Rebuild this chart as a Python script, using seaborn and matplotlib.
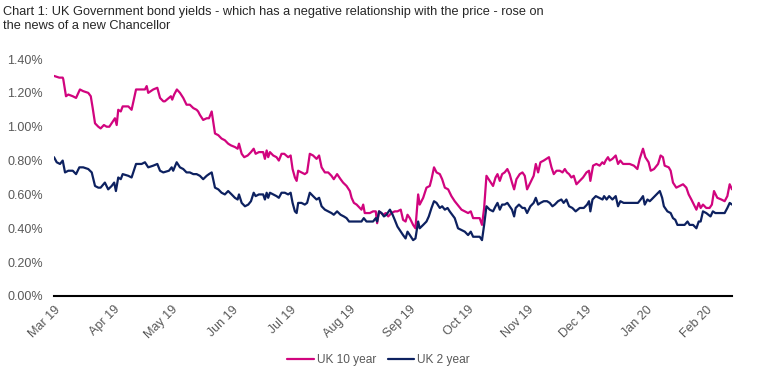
import matplotlib
matplotlib.use("Agg")
import matplotlib.pyplot as plt
import matplotlib.dates as mdates
from matplotlib.lines import Line2D
import pandas as pd
import seaborn as sns

# ---- data (days since 1 Mar 2019, yields in %) ----
start_date = "2019-03-01"
series_names = ["UK 10 year", "UK 2 year"]

days_10y = [0.0, 2.7, 4.5, 4.8, 6.2, 7.4, 9.7, 11.4, 13.4, 15.1, 17.7, 19.0, 20.0, 21.2, 22.9, 24.1,
            25.8, 27.2, 28.6, 30.3, 31.5, 32.4, 33.2, 34.5, 35.5, 38.4, 40.1, 42.4, 45.3, 47.0, 47.9,
            48.7, 51.3, 53.4, 54.8, 56.5, 57.3, 59.4, 60.4, 61.1, 62.1, 63.5, 65.1, 66.8, 68.5, 70.2,
            72.0, 73.7, 74.5, 75.4, 77.1, 78.9, 80.1, 81.5, 83.2, 84.9, 86.6, 88.3, 90.0, 91.4, 93.5,
            94.9, 95.6, 97.0, 98.3, 100.1, 101.8, 103.2, 104.2, 105.9, 108.1, 109.0, 109.9, 110.7,
            111.6, 113.3, 115.0, 116.2, 117.6, 119.0, 121.0, 122.3, 123.3, 124.5, 125.4, 126.2, 127.9,
            129.6, 130.8, 132.2, 133.9, 135.7, 137.0, 138.3, 140.0, 141.7, 143.4, 144.6, 146.3, 148.1,
            149.4, 151.2, 152.9, 153.8, 155.0, 156.4, 158.1, 158.9, 159.8, 160.6, 161.5, 163.2, 164.9,
            166.3, 167.0, 168.0, 170.1, 171.5, 172.7, 174.4, 176.1, 177.5, 179.2, 180.4, 181.7, 182.7,
            183.9, 185.6, 186.8, 188.2, 189.0, 190.8, 192.5, 194.2, 195.1, 196.4, 197.7, 199.4, 200.6,
            202.0, 203.7, 205.4, 207.1, 209.2, 210.6, 212.3, 214.0, 215.4, 216.6, 218.3, 220.0, 221.2,
            222.3, 223.5, 225.2, 226.9, 228.2, 229.2, 230.4, 231.6, 232.9, 234.3, 235.5, 236.7, 237.8,
            239.0, 240.7, 242.1, 243.3, 244.5, 246.2, 247.9, 249.0, 250.2, 251.4, 253.1, 254.5, 255.8,
            257.1, 258.3, 259.7, 261.4, 262.8, 264.0, 265.1, 266.2, 267.4, 268.6, 270.0, 271.7, 273.4,
            275.2, 276.5, 277.2, 278.6, 280.3, 282.0, 283.4, 284.3, 285.1, 286.3, 287.2, 288.6, 290.3,
            291.5, 292.7, 294.1, 295.8, 297.5, 299.7, 301.5, 302.7, 304.4, 305.6, 307.3, 308.4, 310.1,
            312.2, 313.5, 314.7, 315.6, 317.7, 318.7, 319.9, 321.6, 323.3, 325.1, 326.8, 328.0, 329.4,
            330.7, 332.0, 333.2, 334.2, 335.4, 337.1, 338.8, 340.0, 341.1, 342.8, 344.9, 346.6, 348.0,
            349.2, 350.4]
yield_10y = [1.30, 1.29, 1.29, 1.28, 1.18, 1.19, 1.18, 1.17, 1.22, 1.21, 1.20, 1.18, 1.11, 1.02, 1.00, 0.99,
             1.01, 1.00, 1.00, 1.03, 1.05, 1.01, 1.10, 1.09, 1.12, 1.12, 1.10, 1.22, 1.22, 1.22, 1.24,
             1.20, 1.22, 1.23, 1.17, 1.15, 1.15, 1.17, 1.18, 1.16, 1.19, 1.22, 1.20, 1.17, 1.13, 1.13,
             1.11, 1.10, 1.09, 1.07, 1.04, 1.05, 1.05, 1.09, 0.96, 0.95, 0.93, 0.92, 0.90, 0.89, 0.88,
             0.87, 0.90, 0.84, 0.82, 0.83, 0.85, 0.87, 0.84, 0.85, 0.85, 0.81, 0.86, 0.82,
             0.85, 0.83, 0.82, 0.80, 0.84, 0.84, 0.82, 0.83, 0.75, 0.70, 0.68, 0.74, 0.73,
             0.72, 0.73, 0.84, 0.83, 0.81, 0.83, 0.76, 0.73, 0.73, 0.71, 0.69, 0.72, 0.69,
             0.67, 0.65, 0.62, 0.58, 0.55, 0.54, 0.52, 0.51, 0.54, 0.49, 0.49, 0.49, 0.50,
             0.50, 0.43, 0.50, 0.48, 0.49, 0.47, 0.49, 0.50, 0.50, 0.51, 0.45, 0.44, 0.48,
             0.46, 0.42, 0.40, 0.60, 0.54, 0.58, 0.64, 0.65, 0.69, 0.76, 0.73, 0.72, 0.69,
             0.64, 0.63, 0.59, 0.56, 0.53, 0.51, 0.50, 0.49, 0.50, 0.46, 0.46, 0.46, 0.42,
             0.52, 0.71, 0.68, 0.65, 0.70, 0.72, 0.68, 0.72, 0.73, 0.75, 0.72, 0.67, 0.63,
             0.69, 0.72, 0.73, 0.71, 0.63, 0.67, 0.71, 0.78, 0.73, 0.79, 0.80, 0.81, 0.82,
             0.76, 0.72, 0.74, 0.74, 0.73, 0.75, 0.73, 0.72, 0.70, 0.71, 0.66, 0.68, 0.70,
             0.73, 0.74, 0.68, 0.77, 0.78, 0.77, 0.79, 0.78, 0.80, 0.82, 0.80, 0.81, 0.83,
             0.78, 0.80, 0.78, 0.78, 0.78, 0.77, 0.75, 0.81, 0.87, 0.82, 0.79, 0.74, 0.75,
             0.78, 0.83, 0.82, 0.77, 0.76, 0.74, 0.67, 0.64, 0.65, 0.66, 0.64, 0.60, 0.57,
             0.54, 0.51, 0.55, 0.52, 0.54, 0.52, 0.52, 0.54, 0.62, 0.58, 0.57, 0.56, 0.59,
             0.66, 0.63]

days_2y = [0.0, 1.4, 3.1, 4.5, 5.7, 7.4, 9.7, 11.4, 13.1, 15.1, 17.7, 19.5, 21.2, 22.9, 24.1, 26.3,
           28.0, 29.8, 31.1, 32.0, 33.2, 34.5, 35.5, 38.4, 40.1, 42.4, 45.3, 47.0, 48.7, 51.3, 53.4,
           54.8, 56.5, 59.4, 60.8, 61.6, 63.4, 65.1, 66.8, 68.5, 70.2, 72.0, 73.7, 75.4, 77.1, 78.9,
           80.1, 81.5, 83.2, 84.9, 86.6, 88.3, 90.0, 91.8, 93.5, 94.9, 95.6, 97.0, 98.7, 100.4, 101.8,
           103.2, 104.2, 105.9, 108.1, 109.0, 109.9, 110.7, 111.6, 113.3, 115.0, 116.2, 117.6, 119.3,
           121.0, 122.3, 123.3, 124.5, 125.4, 126.2, 127.9, 129.6, 130.8, 132.2, 133.9, 135.7, 137.0,
           138.3, 140.0, 141.7, 143.4, 144.6, 146.3, 148.1, 149.8, 151.2, 152.5, 153.8, 155.5, 157.2,
           158.9, 160.1, 161.5, 163.2, 164.9, 166.3, 167.0, 168.0, 169.3, 170.5, 171.8, 173.6, 175.0,
           176.1, 177.5, 179.2, 180.4, 181.7, 182.7, 183.9, 185.6, 186.8, 188.2, 189.0, 190.8, 192.5,
           193.7, 195.1, 196.4, 197.7, 199.4, 200.6, 202.0, 203.4, 204.5, 205.8, 207.1, 208.8, 210.6,
           212.3, 214.0, 215.4, 216.6, 218.3, 220.0, 221.2, 222.3, 223.5, 225.2, 226.9, 228.2, 229.2,
           230.4, 231.6, 232.9, 234.3, 235.5, 236.7, 237.8, 238.6, 240.3, 242.1, 243.3, 244.5, 246.2,
           247.9, 249.0, 250.2, 251.4, 253.1, 254.8, 256.2, 257.6, 258.8, 260.5, 262.2, 263.4, 264.8,
           266.2, 267.9, 269.6, 271.7, 273.8, 275.5, 276.5, 277.2, 278.3, 280.0, 281.7, 283.5, 284.3,
           285.6, 286.9, 288.6, 290.3, 291.5, 292.7, 294.4, 296.1, 297.5, 300.1, 301.8, 303.2, 304.4,
           305.3, 306.7, 307.9, 308.8, 310.5, 312.2, 313.1, 314.3, 315.2, 317.0, 318.7, 319.9, 321.1,
           322.2, 324.2, 325.9, 327.4, 328.5, 330.3, 332.0, 333.2, 334.2, 335.4, 337.1, 339.3, 340.5,
           341.8, 343.2, 344.9, 346.6, 348.0, 349.2, 350.4]
yield_2y = [0.82, 0.79, 0.78, 0.80, 0.73, 0.74, 0.74, 0.72, 0.76, 0.76, 0.75, 0.73, 0.65, 0.64, 0.64, 0.67,
            0.63, 0.65, 0.67, 0.62, 0.70, 0.69, 0.72, 0.71, 0.70, 0.78, 0.78, 0.79, 0.76, 0.77, 0.78,
            0.74, 0.73, 0.74, 0.76, 0.74, 0.79, 0.76, 0.75, 0.73, 0.73, 0.72, 0.72, 0.71, 0.69, 0.71,
            0.72, 0.73, 0.64, 0.63, 0.61, 0.60, 0.62, 0.60, 0.58, 0.57, 0.60, 0.55, 0.53, 0.54, 0.56,
            0.61, 0.59, 0.60, 0.60, 0.57, 0.61, 0.58, 0.61, 0.60, 0.59, 0.58, 0.61, 0.61,
            0.60, 0.61, 0.55, 0.50, 0.49, 0.55, 0.55, 0.54, 0.55, 0.61, 0.59, 0.57, 0.58,
            0.53, 0.51, 0.50, 0.49, 0.48, 0.50, 0.48, 0.47, 0.46, 0.44, 0.44, 0.44, 0.44,
            0.44, 0.46, 0.44, 0.44, 0.44, 0.46, 0.44, 0.50, 0.49, 0.47, 0.48, 0.51, 0.48,
            0.45, 0.41, 0.38, 0.36, 0.34, 0.38, 0.36, 0.33, 0.34, 0.44, 0.40, 0.42, 0.44,
            0.47, 0.52, 0.56, 0.55, 0.52, 0.53, 0.51, 0.52, 0.50, 0.48, 0.46, 0.40, 0.39,
            0.38, 0.36, 0.38, 0.35, 0.35, 0.35, 0.33, 0.42, 0.53, 0.51, 0.50, 0.53, 0.55,
            0.51, 0.54, 0.54, 0.55, 0.53, 0.51, 0.47, 0.52, 0.54, 0.52, 0.52, 0.49, 0.53,
            0.55, 0.58, 0.54, 0.55, 0.56, 0.56, 0.55, 0.53, 0.54, 0.56, 0.57, 0.55, 0.57,
            0.53, 0.52, 0.50, 0.52, 0.52, 0.54, 0.56, 0.50, 0.57, 0.59, 0.58, 0.57, 0.59,
            0.57, 0.59, 0.57, 0.59, 0.53, 0.56, 0.55, 0.55, 0.55, 0.55, 0.55, 0.57, 0.59,
            0.54, 0.57, 0.56, 0.57, 0.59, 0.61, 0.62, 0.58, 0.53, 0.50, 0.49, 0.46, 0.45,
            0.42, 0.42, 0.42, 0.44, 0.42, 0.42, 0.40, 0.44, 0.44, 0.50, 0.49, 0.47, 0.50,
            0.49, 0.49, 0.49, 0.49, 0.52, 0.55, 0.54]

y_ticks = [0.0, 0.2, 0.4, 0.6, 0.8, 1.0, 1.2, 1.4]
title = ("Chart 1: UK Government bond yields - which has a negative relationship with the price - rose on\n"
         "the news of a new Chancellor")

PINK = "#D1047E"
NAVY = "#0D2160"
TEXT = "#595959"

# ---- build a long table ----
t0 = pd.Timestamp(start_date)
df = pd.concat([
    pd.DataFrame({"date": t0 + pd.to_timedelta(days_10y, unit="D"), "yield": yield_10y, "series": series_names[0]}),
    pd.DataFrame({"date": t0 + pd.to_timedelta(days_2y, unit="D"), "yield": yield_2y, "series": series_names[1]}),
], ignore_index=True)

sns.set_style("white")
plt.rcParams["font.family"] = ["Liberation Sans", "DejaVu Sans"]

fig = plt.figure(figsize=(7.57, 3.80), dpi=100)
ax = fig.add_axes([54 / 757, 1 - 296 / 380, (732 - 54) / 757, (296 - 59) / 380])

palette = {series_names[0]: PINK, series_names[1]: NAVY}
sns.lineplot(data=df, x="date", y="yield", hue="series", palette=palette,
             estimator=None, linewidth=1.6, ax=ax, legend=False)

ax.set_ylim(0, 1.40)
ax.set_xlim(t0, t0 + pd.Timedelta(days=350.4))
ax.set_yticks(y_ticks)
ax.set_yticklabels([f"{v:.2f}%" for v in y_ticks], color=TEXT, fontsize=9)
ax.tick_params(axis="y", length=0, pad=8)

ax.xaxis.set_major_locator(mdates.MonthLocator())
ax.xaxis.set_major_formatter(mdates.DateFormatter("%b %y"))
ax.tick_params(axis="x", direction="inout", length=7, width=1.3, color="black",
               labelsize=9, labelcolor=TEXT, pad=2)
for lab in ax.get_xticklabels():
    lab.set_rotation(45)
    lab.set_ha("right")
    lab.set_rotation_mode("anchor")

for side in ["left", "right", "top"]:
    ax.spines[side].set_visible(False)
ax.spines["bottom"].set_color("black")
ax.spines["bottom"].set_linewidth(1.5)
ax.set_xlabel("")
ax.set_ylabel("")
ax.grid(False)

fig.text(0.004, 0.985, title, ha="left", va="top", fontsize=9.2, color="#262626", linespacing=1.3)

handles = [Line2D([], [], color=PINK, lw=1.6), Line2D([], [], color=NAVY, lw=1.6)]
fig.legend(handles, series_names, loc="center", bbox_to_anchor=(0.5, 0.052), ncol=2,
           frameon=False, fontsize=8.6, handlelength=2.2, handletextpad=0.25, columnspacing=1.0,
           labelcolor=TEXT)

fig.savefig("out.png", dpi=100)
